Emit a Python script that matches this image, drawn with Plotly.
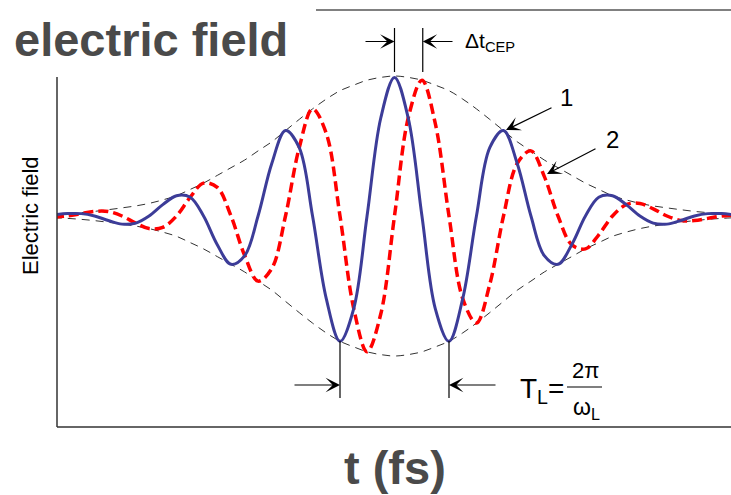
import plotly.graph_objects as go

# ---- data ----
# time samples in fs (pulse centre = 0)
t_fs = [-8.44, -8.10, -7.76, -7.43, -7.09, -6.75, -6.41, -6.08, -5.74, -5.40,
        -5.06, -4.73, -4.39, -4.05, -3.71, -3.38, -3.04, -2.70, -2.36, -2.03,
        -1.69, -1.35, -1.01, -0.68, -0.34, 0.00, 0.34, 0.68, 1.01, 1.35,
        1.69, 2.03, 2.36, 2.70, 3.04, 3.38, 3.71, 4.05, 4.39, 4.73,
        5.06, 5.40, 5.74, 6.08, 6.41, 6.75, 7.09, 7.43, 7.76, 8.10, 8.44]

# pulse 1 (solid blue)
field_1 = [0.008, 0.017, 0.017, 0.0, -0.032, -0.058, -0.051, 0.0, 0.081, 0.145,
           0.134, 0.0, -0.205, -0.345, -0.283, 0.0, 0.375, 0.61, 0.488, 0.0,
           -0.59, -0.895, -0.661, 0.0, 0.70, 0.99, 0.70, 0.0, -0.661, -0.895,
           -0.59, 0.0, 0.488, 0.61, 0.375, 0.0, -0.283, -0.345, -0.205, 0.0,
           0.134, 0.145, 0.081, 0.0, -0.051, -0.058, -0.032, 0.0, 0.017, 0.017, 0.008]

# pulse 2 (dashed red, shifted carrier)
field_2 = [-0.008, 0.0, 0.017, 0.033, 0.032, 0.0, -0.051, -0.09, -0.081, 0.0,
           0.134, 0.235, 0.205, 0.0, -0.283, -0.465, -0.375, 0.0, 0.488, 0.765,
           0.59, 0.0, -0.661, -0.97, -0.70, 0.0, 0.70, 0.97, 0.661, 0.0,
           -0.59, -0.765, -0.488, 0.0, 0.375, 0.465, 0.283, 0.0, -0.205, -0.235,
           -0.134, 0.0, 0.081, 0.09, 0.051, 0.0, -0.032, -0.033, -0.017, 0.0, 0.008]

# envelope (upper); lower envelope is its mirror
envelope = [0.012, 0.017, 0.024, 0.033, 0.045, 0.058, 0.072, 0.09, 0.115, 0.145,
            0.19, 0.235, 0.29, 0.345, 0.40, 0.465, 0.53, 0.61, 0.69, 0.765,
            0.835, 0.895, 0.935, 0.97, 0.99, 1.00, 0.99, 0.97, 0.935, 0.895,
            0.835, 0.765, 0.69, 0.61, 0.53, 0.465, 0.40, 0.345, 0.29, 0.235,
            0.19, 0.145, 0.115, 0.09, 0.072, 0.058, 0.045, 0.033, 0.024, 0.017, 0.012]
envelope_low = [-v for v in envelope]

t_blue_peak = 0.0
t_red_peak = 0.70
t_trough_a = -1.35
t_trough_b = 1.35

# ---- layout helpers (pixel -> data) ----
W, H = 731, 495
ML, MR, MT, MB = 57, 0, 10, 68
PXF = 40.37      # pixels per fs
X0 = 394.5       # pixel x of t = 0
Y0 = 216.0       # pixel y of E = 0
PYE = 140.0      # pixels per unit field


def fx(px):
    return (px - X0) / PXF


def fy(py):
    return (Y0 - py) / PYE


fig = go.Figure()

fig.add_trace(go.Scatter(x=t_fs, y=envelope, mode="lines", line_shape="spline",
                         line=dict(color="#333333", width=1, dash="8px,6px"),
                         hoverinfo="skip", showlegend=False))
fig.add_trace(go.Scatter(x=t_fs, y=envelope_low, mode="lines", line_shape="spline",
                         line=dict(color="#333333", width=1, dash="8px,6px"),
                         hoverinfo="skip", showlegend=False))
fig.add_trace(go.Scatter(x=t_fs, y=field_2, mode="lines", line_shape="spline",
                         line=dict(color="#ff0000", width=3.5, dash="10px,5px"),
                         name="2", showlegend=False))
fig.add_trace(go.Scatter(x=t_fs, y=field_1, mode="lines", line_shape="spline",
                         line=dict(color="#3c3c98", width=3),
                         name="1", showlegend=False))

shapes = []
# frame lines
shapes.append(dict(type="line", xref="paper", yref="paper", x0=0, x1=1, y0=0, y1=0,
                   line=dict(color="#333333", width=1.5)))
shapes.append(dict(type="line", xref="paper", yref="paper", x0=0, x1=0, y0=0,
                   y1=(H - MB - 77) / (H - MT - MB), line=dict(color="#333333", width=1.5)))
shapes.append(dict(type="line", xref="paper", yref="paper", x0=(316 - ML) / (W - ML - MR), x1=1,
                   y0=1, y1=1, line=dict(color="#808080", width=2)))
# delta t_CEP markers
for tt in (t_blue_peak, t_red_peak):
    shapes.append(dict(type="line", xref="x", yref="y", x0=tt, x1=tt, y0=fy(28), y1=fy(72),
                       line=dict(color="black", width=1.2)))
# T_L markers
for tt in (t_trough_a, t_trough_b):
    shapes.append(dict(type="line", xref="x", yref="y", x0=tt, x1=tt, y0=fy(341), y1=fy(398),
                       line=dict(color="black", width=1.2)))
# fraction bar
shapes.append(dict(type="line", xref="x", yref="y", x0=fx(567), x1=fx(602), y0=fy(387), y1=fy(387),
                   line=dict(color="black", width=1.2)))

ann = []


def arrow(hx, hy, tx, ty):
    ann.append(dict(xref="x", yref="y", axref="x", ayref="y", x=hx, y=hy, ax=tx, ay=ty,
                    text="", showarrow=True, arrowhead=3, arrowsize=2, arrowwidth=1.2,
                    arrowcolor="black", standoff=0, startstandoff=0))


arrow(t_blue_peak, fy(41.5), fx(364), fy(41.5))
arrow(t_red_peak, fy(41.5), fx(454), fy(41.5))
arrow(t_trough_a, fy(385), fx(293), fy(385))
arrow(t_trough_b, fy(385), fx(497), fy(385))
arrow(fx(506), fy(130), fx(553), fy(107))
arrow(fx(547), fy(174), fx(597), fy(148))

font_txt = "Liberation Sans, Arial, sans-serif"
ann.append(dict(xref="x", yref="y", x=fx(463), y=fy(42), xanchor="left", yanchor="middle",
                text="\u0394t<sub>CEP</sub>", showarrow=False,
                font=dict(family=font_txt, size=21, color="black")))
ann.append(dict(xref="x", yref="y", x=fx(566), y=fy(97), xanchor="center", yanchor="middle",
                text="1", showarrow=False, font=dict(family=font_txt, size=24, color="black")))
ann.append(dict(xref="x", yref="y", x=fx(612), y=fy(139), xanchor="center", yanchor="middle",
                text="2", showarrow=False, font=dict(family=font_txt, size=24, color="black")))
ann.append(dict(xref="x", yref="y", x=fx(566), y=fy(390), xanchor="right", yanchor="middle",
                text="T<sub>L</sub>=", showarrow=False, font=dict(family=font_txt, size=28, color="black")))
ann.append(dict(xref="x", yref="y", x=fx(585), y=fy(370), xanchor="center", yanchor="middle",
                text="2\u03c0", showarrow=False, font=dict(family=font_txt, size=22, color="black")))
ann.append(dict(xref="x", yref="y", x=fx(586), y=fy(408), xanchor="center", yanchor="middle",
                text="\u03c9<sub>L</sub>", showarrow=False, font=dict(family=font_txt, size=23, color="black")))

# titles
ann.append(dict(xref="paper", yref="paper", x=(151 - ML) / (W - ML - MR),
                y=(H - MB - 39) / (H - MT - MB), xanchor="center", yanchor="middle",
                text="<b>electric field</b>", showarrow=False,
                font=dict(family=font_txt, size=47, color="#4a4a4a")))
ann.append(dict(xref="paper", yref="paper", x=(395 - ML) / (W - ML - MR),
                y=(H - MB - 467) / (H - MT - MB), xanchor="center", yanchor="middle",
                text="<b>t (fs)</b>", showarrow=False,
                font=dict(family=font_txt, size=47, color="#4a4a4a")))
ann.append(dict(xref="paper", yref="paper", x=(30 - ML) / (W - ML - MR),
                y=(H - MB - 216) / (H - MT - MB), xanchor="center", yanchor="middle",
                text="Electric field", textangle=-90, showarrow=False,
                font=dict(family=font_txt, size=22, color="black")))

fig.update_layout(
    width=W, height=H,
    margin=dict(l=ML, r=MR, t=MT, b=MB),
    paper_bgcolor="white", plot_bgcolor="white",
    xaxis=dict(range=[fx(ML), fx(W - MR)], showgrid=False, zeroline=False,
               showticklabels=False, showline=False, ticks=""),
    yaxis=dict(range=[fy(H - MB), fy(MT)], showgrid=False, zeroline=False,
               showticklabels=False, showline=False, ticks=""),
    shapes=shapes, annotations=ann,
)

fig.write_html("out.html", config={"displayModeBar": False},
               post_script="document.body.style.margin='0';document.body.style.padding='0';")
